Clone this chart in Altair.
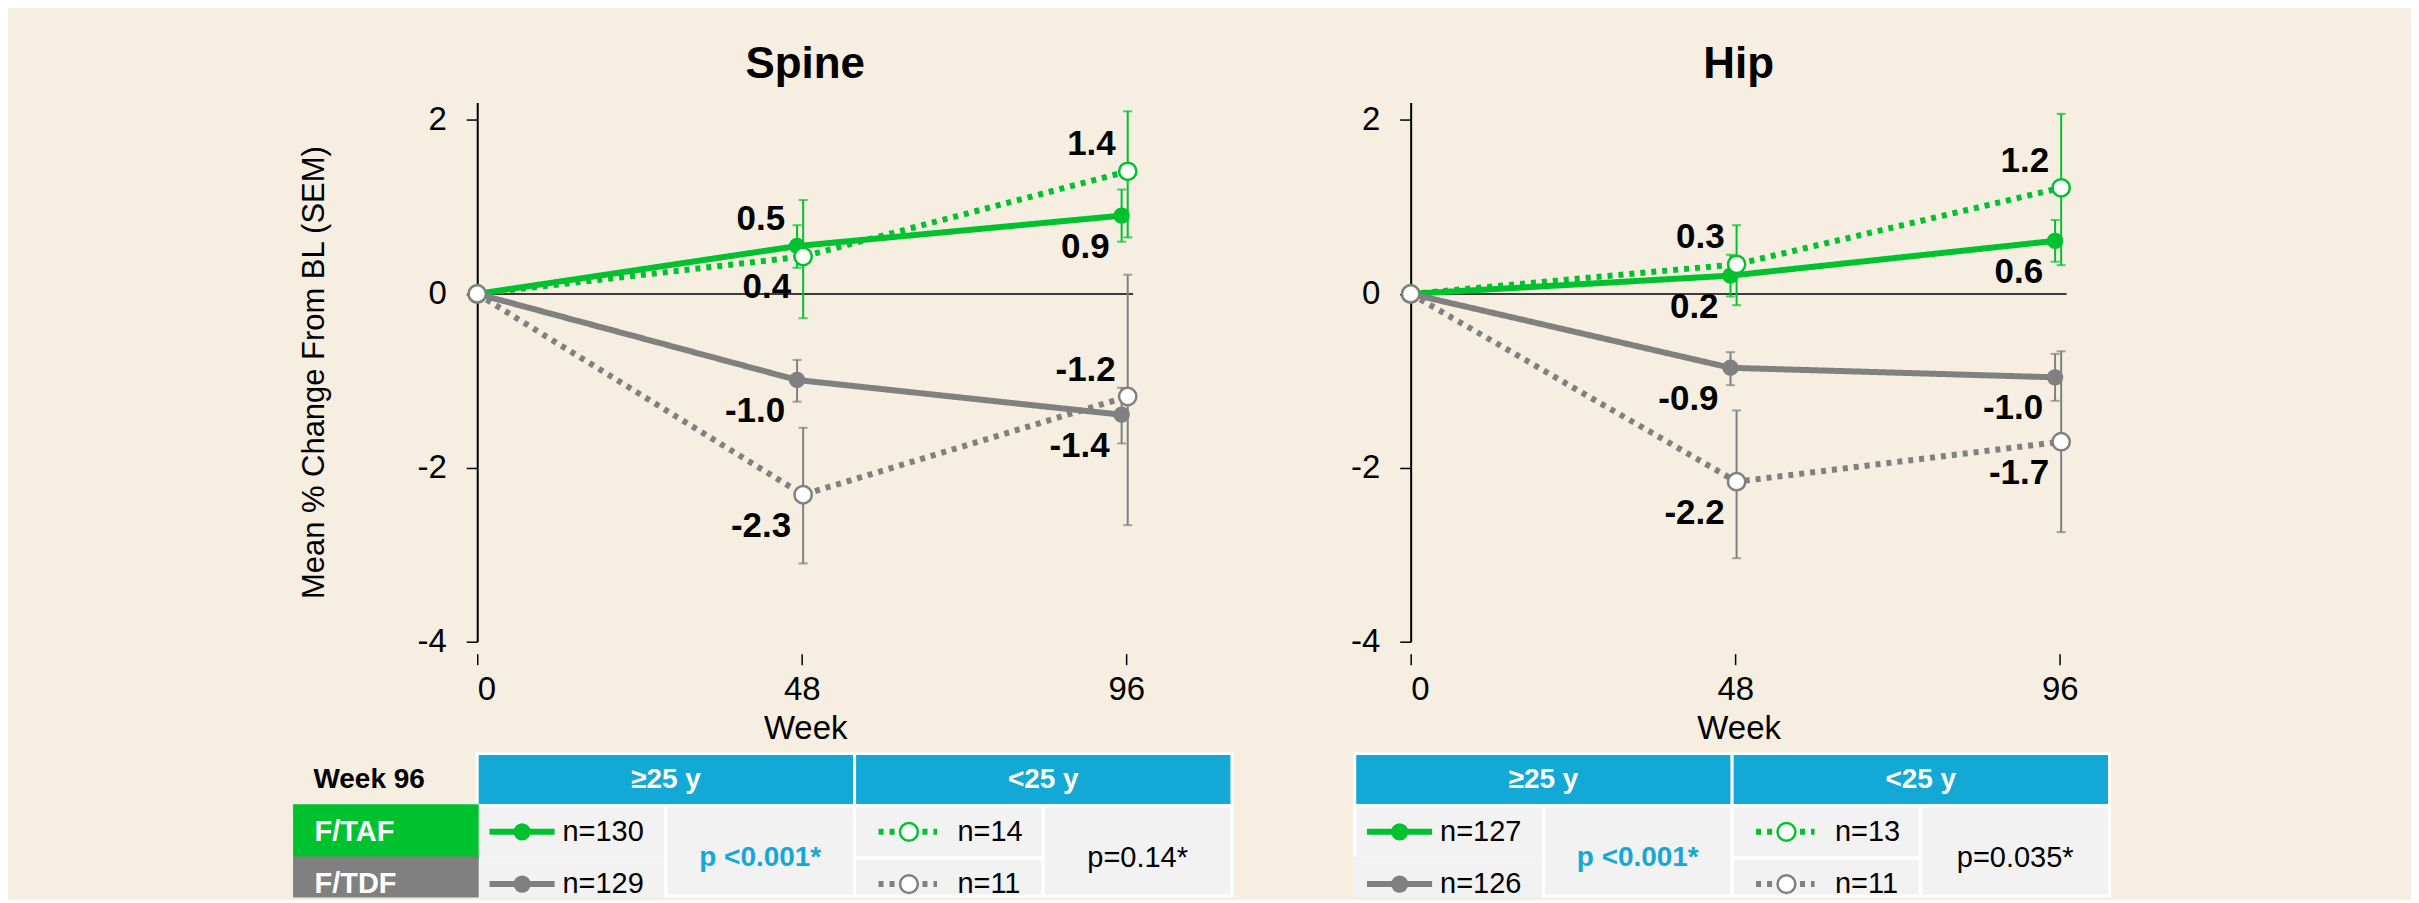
import altair as alt
import pandas as pd

# ---------------- data ----------------
weeks = [0, 48, 96]
x_ticks = [0, 48, 96]
y_ticks = [-4, -2, 0, 2]

series_names = ["F/TAF ≥25 y", "F/TAF <25 y", "F/TDF ≥25 y", "F/TDF <25 y"]
series_group = ["F/TAF", "F/TAF", "F/TDF", "F/TDF"]
series_age = ["≥25 y", "<25 y", "≥25 y", "<25 y"]

# Spine: mean % change, SEM bar low / high, printed label, label side
spine_taf_ge25 = [0, 0.55, 0.90]
spine_taf_ge25_lo = [0, 0.30, 0.60]
spine_taf_ge25_hi = [0, 0.79, 1.20]
spine_taf_ge25_lab = ["", "0.5", "0.9"]
spine_taf_ge25_side = ["", "above", "below"]

spine_taf_lt25 = [0, 0.43, 1.41]
spine_taf_lt25_lo = [0, -0.28, 0.65]
spine_taf_lt25_hi = [0, 1.08, 2.10]
spine_taf_lt25_lab = ["", "0.4", "1.4"]
spine_taf_lt25_side = ["", "below", "above"]

spine_tdf_ge25 = [0, -0.99, -1.39]
spine_tdf_ge25_lo = [0, -1.24, -1.72]
spine_tdf_ge25_hi = [0, -0.76, -1.08]
spine_tdf_ge25_lab = ["", "-1.0", "-1.4"]
spine_tdf_ge25_side = ["", "below", "below"]

spine_tdf_lt25 = [0, -2.31, -1.18]
spine_tdf_lt25_lo = [0, -3.10, -2.66]
spine_tdf_lt25_hi = [0, -1.54, 0.22]
spine_tdf_lt25_lab = ["", "-2.3", "-1.2"]
spine_tdf_lt25_side = ["", "below", "above"]

# Hip
hip_taf_ge25 = [0, 0.21, 0.61]
hip_taf_ge25_lo = [0, -0.03, 0.37]
hip_taf_ge25_hi = [0, 0.45, 0.85]
hip_taf_ge25_lab = ["", "0.2", "0.6"]
hip_taf_ge25_side = ["", "below", "below"]

hip_taf_lt25 = [0, 0.34, 1.22]
hip_taf_lt25_lo = [0, -0.13, 0.33]
hip_taf_lt25_hi = [0, 0.79, 2.07]
hip_taf_lt25_lab = ["", "0.3", "1.2"]
hip_taf_lt25_side = ["", "above", "above"]

hip_tdf_ge25 = [0, -0.85, -0.96]
hip_tdf_ge25_lo = [0, -1.05, -1.23]
hip_tdf_ge25_hi = [0, -0.67, -0.69]
hip_tdf_ge25_lab = ["", "-0.9", "-1.0"]
hip_tdf_ge25_side = ["", "below", "below"]

hip_tdf_lt25 = [0, -2.16, -1.70]
hip_tdf_lt25_lo = [0, -3.04, -2.74]
hip_tdf_lt25_hi = [0, -1.34, -0.66]
hip_tdf_lt25_lab = ["", "-2.2", "-1.7"]
hip_tdf_lt25_side = ["", "below", "below"]

# Week 96 table
spine_n = ["n=130", "n=129", "n=14", "n=11"]
hip_n = ["n=127", "n=126", "n=13", "n=11"]
spine_p = ["p <0.001*", "p=0.14*"]
hip_p = ["p <0.001*", "p=0.035*"]
table_header = ["≥25 y", "<25 y"]
row_labels = ["F/TAF", "F/TDF"]
table_corner = "Week 96"

# ---------------- style / layout ----------------
BG = "#F5EEE1"
GREEN = "#00C12E"
GRAY = "#808080"
BLUE = "#14A8D6"
CELL = "#F2F2F2"
FONT = "Liberation Sans"
age_shift = {"≥25 y": -0.7, "<25 y": 0.2}  # small horizontal dodge (weeks)

PW, PH = 657, 540          # plot area
COL_W, ROW_H = 189.0, 52.33  # table cell size (px)
TABLE_TOP = 652            # table top below plot top (px)
LAST_ROW_END = 2.73        # visible part of the last table row
LABEL_X0 = -0.968

color_scale = alt.Scale(domain=["F/TAF", "F/TDF"], range=[GREEN, GRAY])
dash_scale = alt.Scale(domain=["≥25 y", "<25 y"], range=[[1, 0], [5, 6]])


def build_df(means, los, his, labs, sides):
    rows = []
    for i, name in enumerate(series_names):
        for j, w in enumerate(weeks):
            shift = age_shift[series_age[i]] if w > 0 else 0
            rows.append(dict(series=name, group=series_group[i], age=series_age[i],
                             week=w, pweek=w + shift, value=means[i][j],
                             lo=los[i][j], hi=his[i][j], label=labs[i][j],
                             side=sides[i][j]))
    return pd.DataFrame(rows)


spine_df = build_df(
    [spine_taf_ge25, spine_taf_lt25, spine_tdf_ge25, spine_tdf_lt25],
    [spine_taf_ge25_lo, spine_taf_lt25_lo, spine_tdf_ge25_lo, spine_tdf_lt25_lo],
    [spine_taf_ge25_hi, spine_taf_lt25_hi, spine_tdf_ge25_hi, spine_tdf_lt25_hi],
    [spine_taf_ge25_lab, spine_taf_lt25_lab, spine_tdf_ge25_lab, spine_tdf_lt25_lab],
    [spine_taf_ge25_side, spine_taf_lt25_side, spine_tdf_ge25_side, spine_tdf_lt25_side],
)
hip_df = build_df(
    [hip_taf_ge25, hip_taf_lt25, hip_tdf_ge25, hip_tdf_lt25],
    [hip_taf_ge25_lo, hip_taf_lt25_lo, hip_tdf_ge25_lo, hip_tdf_lt25_lo],
    [hip_taf_ge25_hi, hip_taf_lt25_hi, hip_tdf_ge25_hi, hip_tdf_lt25_hi],
    [hip_taf_ge25_lab, hip_taf_lt25_lab, hip_tdf_ge25_lab, hip_tdf_lt25_lab],
    [hip_taf_ge25_side, hip_taf_lt25_side, hip_tdf_ge25_side, hip_tdf_lt25_side],
)


def make_plot(df, ytitle):
    xscale = alt.Scale(domain=[0, 97], nice=False, zero=False)
    yscale = alt.Scale(domain=[-4, 2.2], nice=False, zero=False)
    xaxis = alt.Axis(values=x_ticks, title="Week", offset=12, domain=False, grid=False,
                     tickSize=11, tickColor="black", tickWidth=1.5, labelPadding=9,
                     labelFontSize=33, labelFont=FONT, labelColor="black",
                     titleFontSize=33, titleFont=FONT, titleFontWeight="normal",
                     titleColor="black", titlePadding=6)
    yargs = dict(values=y_ticks, domain=True, domainColor="black", domainWidth=2,
                 grid=False, tickSize=11, tickColor="black", tickWidth=1.5,
                 labelPadding=20, labelFontSize=33, labelFont=FONT, labelColor="black",
                 labelExpr="'' + datum.value")
    if ytitle:
        yaxis = alt.Axis(title=ytitle, titleFontSize=31, titleFont=FONT,
                         titleFontWeight="normal", titleColor="black", titleAngle=-90,
                         titleX=-163, titleY=PH / 2, titleAlign="center",
                         titleBaseline="middle", **yargs)
    else:
        yaxis = alt.Axis(title=None, **yargs)

    def X(f):
        return alt.X(f"{f}:Q", scale=xscale, axis=xaxis)

    def Y(f):
        return alt.Y(f"{f}:Q", scale=yscale, axis=yaxis)

    col = alt.Color("group:N", scale=color_scale, legend=None)
    base = alt.Chart(df)
    nz = base.transform_filter("datum.week > 0")

    zero = alt.Chart(pd.DataFrame({"pweek": [0], "value": [0]})).mark_rule(
        color="black", strokeWidth=1.5).encode(y=Y("value"))
    err = nz.mark_rule(strokeWidth=2).encode(x=X("pweek"), y=Y("lo"), y2="hi:Q", color=col)
    cap_lo = nz.mark_tick(orient="horizontal", size=9, thickness=2).encode(
        x=X("pweek"), y=Y("lo"), color=col)
    cap_hi = nz.mark_tick(orient="horizontal", size=9, thickness=2).encode(
        x=X("pweek"), y=Y("hi"), color=col)
    lines = base.mark_line(strokeWidth=6).encode(
        x=X("pweek"), y=Y("value"), color=col, detail="series:N",
        strokeDash=alt.StrokeDash("age:N", scale=dash_scale, legend=None))
    filled = base.transform_filter("datum.age == '≥25 y'").mark_circle(
        size=270, opacity=1).encode(x=X("pweek"), y=Y("value"), color=col)
    openpt = base.transform_filter("datum.age == '<25 y'").mark_circle(
        size=300, opacity=1, fill="white", strokeWidth=2.5).encode(
        x=X("pweek"), y=Y("value"),
        stroke=alt.Stroke("group:N", scale=color_scale, legend=None))
    lab_above = base.transform_filter("datum.side == 'above'").mark_text(
        align="right", baseline="middle", dx=-12, dy=-27, font=FONT, fontSize=35,
        fontWeight="bold", color="black").encode(x=X("pweek"), y=Y("value"), text="label:N")
    lab_below = base.transform_filter("datum.side == 'below'").mark_text(
        align="right", baseline="middle", dx=-12, dy=31, font=FONT, fontSize=35,
        fontWeight="bold", color="black").encode(x=X("pweek"), y=Y("value"), text="label:N")

    return alt.layer(zero, err, cap_lo, cap_hi, lines, filled, openpt,
                     lab_above, lab_below)


def make_table(ns, ps, with_labels, left_shift_px):
    x0d = left_shift_px / COL_W
    xs = alt.Scale(domain=[x0d, x0d + PW / COL_W], nice=False, zero=False)
    y0d = -TABLE_TOP / ROW_H
    ys = alt.Scale(domain=[y0d, y0d + PH / ROW_H], nice=False, zero=False, reverse=True)

    def X(f):
        return alt.X(f"{f}:Q", scale=xs, axis=None)

    def Y(f):
        return alt.Y(f"{f}:Q", scale=ys, axis=None)

    cells = [
        dict(x0=0, x1=2, y0=0, y1=1, fill=BLUE, stroke="white"),
        dict(x0=2, x1=4, y0=0, y1=1, fill=BLUE, stroke="white"),
        dict(x0=0, x1=1, y0=1, y1=2, fill=CELL, stroke="white"),
        dict(x0=0, x1=1, y0=2, y1=LAST_ROW_END, fill=CELL, stroke=CELL),
        dict(x0=1, x1=2, y0=1, y1=LAST_ROW_END, fill=CELL, stroke="white"),
        dict(x0=2, x1=3, y0=1, y1=2, fill=CELL, stroke="white"),
        dict(x0=2, x1=3, y0=2, y1=LAST_ROW_END, fill=CELL, stroke="white"),
        dict(x0=3, x1=4, y0=1, y1=LAST_ROW_END, fill=CELL, stroke="white"),
    ]
    if with_labels:
        cells += [
            dict(x0=LABEL_X0, x1=0, y0=1, y1=2, fill=GREEN, stroke=GREEN),
            dict(x0=LABEL_X0, x1=0, y0=2, y1=LAST_ROW_END, fill=GRAY, stroke=GRAY),
        ]
    cdf = pd.DataFrame(cells)
    rects = alt.Chart(cdf).mark_rect(strokeWidth=3).encode(
        x=X("x0"), x2="x1:Q", y=Y("y0"), y2="y1:Q",
        fill=alt.Fill("fill:N", scale=None), stroke=alt.Stroke("stroke:N", scale=None))

    gl = pd.DataFrame([
        dict(x0=0.065, x1=0.41, xc=0.238, y=1.5, group="F/TAF", age="≥25 y"),
        dict(x0=0.065, x1=0.41, xc=0.238, y=2.5, group="F/TDF", age="≥25 y"),
        dict(x0=2.127, x1=2.437, xc=2.288, y=1.5, group="F/TAF", age="<25 y"),
        dict(x0=2.127, x1=2.437, xc=2.288, y=2.5, group="F/TDF", age="<25 y"),
    ])
    col = alt.Color("group:N", scale=color_scale, legend=None)
    glines = alt.Chart(gl).mark_rule(strokeWidth=6).encode(
        x=X("x0"), x2="x1:Q", y=Y("y"), color=col,
        strokeDash=alt.StrokeDash("age:N", scale=dash_scale, legend=None))
    gfill = alt.Chart(gl).transform_filter("datum.age == '≥25 y'").mark_circle(
        size=300, opacity=1).encode(x=X("xc"), y=Y("y"), color=col)
    gopen = alt.Chart(gl).transform_filter("datum.age == '<25 y'").mark_circle(
        size=320, opacity=1, fill="white", strokeWidth=2.5).encode(
        x=X("xc"), y=Y("y"), stroke=alt.Stroke("group:N", scale=color_scale, legend=None))

    ntext = pd.DataFrame([
        dict(x=0.452, y=1.5, t=ns[0]), dict(x=0.452, y=2.5, t=ns[1]),
        dict(x=2.545, y=1.5, t=ns[2]), dict(x=2.545, y=2.5, t=ns[3]),
    ])
    nlayer = alt.Chart(ntext).mark_text(align="left", baseline="middle", font=FONT,
                                        fontSize=29, color="black").encode(
        x=X("x"), y=Y("y"), text="t:N")
    head = pd.DataFrame([
        dict(x=1, y=0.5, t=table_header[0], c="white"),
        dict(x=3, y=0.5, t=table_header[1], c="white"),
        dict(x=1.5, y=2.0, t=ps[0], c=BLUE),
    ])
    hlayer = alt.Chart(head).mark_text(align="center", baseline="middle", font=FONT,
                                       fontSize=28, fontWeight="bold").encode(
        x=X("x"), y=Y("y"), text="t:N", color=alt.Color("c:N", scale=None))
    p2 = pd.DataFrame([dict(x=3.5, y=2.0, t=ps[1])])
    player = alt.Chart(p2).mark_text(align="center", baseline="middle", font=FONT,
                                     fontSize=29, color="black").encode(
        x=X("x"), y=Y("y"), text="t:N")
    layers = [rects, glines, gfill, gopen, nlayer, hlayer, player]
    if with_labels:
        lt = pd.DataFrame([
            dict(x=-0.868, y=0.5, t=table_corner, c="black", s=28),
            dict(x=-0.862, y=1.5, t=row_labels[0], c="white", s=29),
            dict(x=-0.862, y=2.5, t=row_labels[1], c="white", s=29),
        ])
        llayer = alt.Chart(lt).mark_text(align="left", baseline="middle", font=FONT,
                                         fontWeight="bold").encode(
            x=X("x"), y=Y("y"), text="t:N", color=alt.Color("c:N", scale=None),
            size=alt.Size("s:Q", scale=None))
        layers.append(llayer)
    return alt.layer(*layers)


def make_column(df, title, ytitle, ns, ps, with_labels, shift):
    return alt.layer(make_plot(df, ytitle), make_table(ns, ps, with_labels, shift)).resolve_scale(
        x="independent", y="independent", color="independent", stroke="independent"
    ).properties(
        width=PW, height=PH,
        title=alt.TitleParams(title, fontSize=44, fontWeight="bold", font=FONT,
                              color="black", anchor="middle", frame="group",
                              baseline="alphabetic", offset=-19))


spine_col = make_column(spine_df, "Spine", "Mean % Change From BL (SEM)",
                        spine_n, spine_p, True, 0)
hip_col = make_column(hip_df, "Hip", None, hip_n, hip_p, False, 56)

chart = alt.HConcatChart(hconcat=[spine_col, hip_col], spacing=278, bounds="flush").properties(
    padding={"left": 285, "top": 34, "right": 300, "bottom": 0},
    background=BG,
).configure_view(strokeWidth=0)

chart.save("out.html", embed_options={"renderer": "svg", "actions": False})
